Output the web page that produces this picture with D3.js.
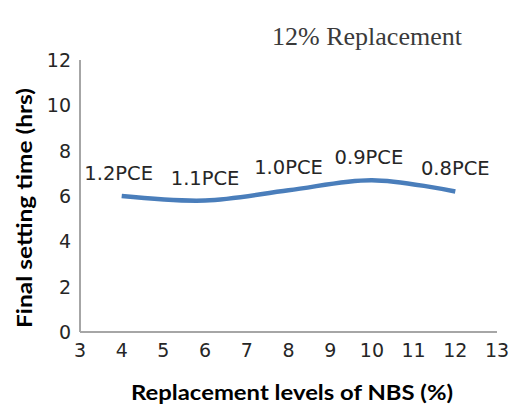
<!DOCTYPE html>
<html>
<head>
<meta charset="utf-8">
<script src="https://cdn.jsdelivr.net/npm/d3@7"></script>
<style>
  html, body { margin: 0; padding: 0; background: #fff; }
  svg { display: block; }
</style>
</head>
<body>
<svg id="chart" width="526" height="417"></svg>
<script>
// ---- data ----
const xValues = [4, 6, 8, 10, 12];
const yValues = [6.0, 5.8, 6.25, 6.7, 6.2];
const pointLabels = ["1.2PCE", "1.1PCE", "1.0PCE", "0.9PCE", "0.8PCE"];
const xTicks = [3, 4, 5, 6, 7, 8, 9, 10, 11, 12, 13];
const yTicks = [0, 2, 4, 6, 8, 10, 12];
const titleText = "12% Replacement";
const xTitle = "Replacement levels of NBS (%)";
const yTitle = "Final setting time (hrs)";

// ---- layout ----
const svg = d3.select("#chart");
const x = d3.scaleLinear().domain([3, 13]).range([80, 497]);
const y = d3.scaleLinear().domain([0, 12]).range([332, 60]);

const axisColor = "#a6a6a6";
const textColor = "#262626";

// axes lines
svg.append("line")
  .attr("x1", x(3)).attr("x2", x(13))
  .attr("y1", y(0)).attr("y2", y(0))
  .attr("stroke", axisColor).attr("stroke-width", 2);
svg.append("line")
  .attr("x1", x(3)).attr("x2", x(3))
  .attr("y1", y(0)).attr("y2", y(12))
  .attr("stroke", axisColor).attr("stroke-width", 2);

// y tick labels
svg.append("g").selectAll("text")
  .data(yTicks).join("text")
  .attr("x", x(3) - 9)
  .attr("y", d => y(d))
  .attr("dy", "0.36em")
  .attr("text-anchor", "end")
  .attr("font-family", "DejaVu Sans, Verdana, sans-serif")
  .attr("font-size", 19)
  .attr("fill", textColor)
  .text(d => d);

// x tick labels
svg.append("g").selectAll("text")
  .data(xTicks).join("text")
  .attr("x", d => x(d))
  .attr("y", 357)
  .attr("text-anchor", "middle")
  .attr("font-family", "DejaVu Sans, Verdana, sans-serif")
  .attr("font-size", 19)
  .attr("fill", textColor)
  .text(d => d);

// line
const pts = xValues.map((v, i) => [v, yValues[i]]);
const line = d3.line()
  .x(d => x(d[0]))
  .y(d => y(d[1]))
  .curve(d3.curveCatmullRom.alpha(0.5));
svg.append("path")
  .datum(pts)
  .attr("d", line)
  .attr("fill", "none")
  .attr("stroke", "#4a7ebb")
  .attr("stroke-width", 4.5)
  .attr("stroke-linecap", "butt");

// point labels
svg.append("g").selectAll("text")
  .data(pts).join("text")
  .attr("x", (d, i) => x(d[0]) - (i === 0 || i === 3 ? 3 : 0))
  .attr("y", d => y(d[1]) - 16)
  .attr("text-anchor", "middle")
  .attr("font-family", "DejaVu Sans, Verdana, sans-serif")
  .attr("font-size", 19.5)
  .attr("fill", textColor)
  .text((d, i) => pointLabels[i]);

// title
svg.append("text")
  .attr("x", 367).attr("y", 45)
  .attr("text-anchor", "middle")
  .attr("font-family", "Liberation Serif, Times New Roman, serif")
  .attr("font-size", 26)
  .attr("fill", "#3a3a3a")
  .text(titleText);

// x title
svg.append("text")
  .attr("x", 292).attr("y", 400)
  .attr("text-anchor", "middle")
  .attr("font-family", "Lato, sans-serif")
  .attr("font-weight", "bold")
  .attr("font-size", 20)
  .attr("fill", "#000")
  .attr("textLength", 322)
  .attr("lengthAdjust", "spacingAndGlyphs")
  .text(xTitle);

// y title
svg.append("text")
  .attr("transform", "translate(32,208) rotate(-90)")
  .attr("text-anchor", "middle")
  .attr("font-family", "Lato, sans-serif")
  .attr("font-weight", "bold")
  .attr("font-size", 20)
  .attr("fill", "#000")
  .attr("textLength", 240)
  .attr("lengthAdjust", "spacingAndGlyphs")
  .text(yTitle);
</script>
</body>
</html>
